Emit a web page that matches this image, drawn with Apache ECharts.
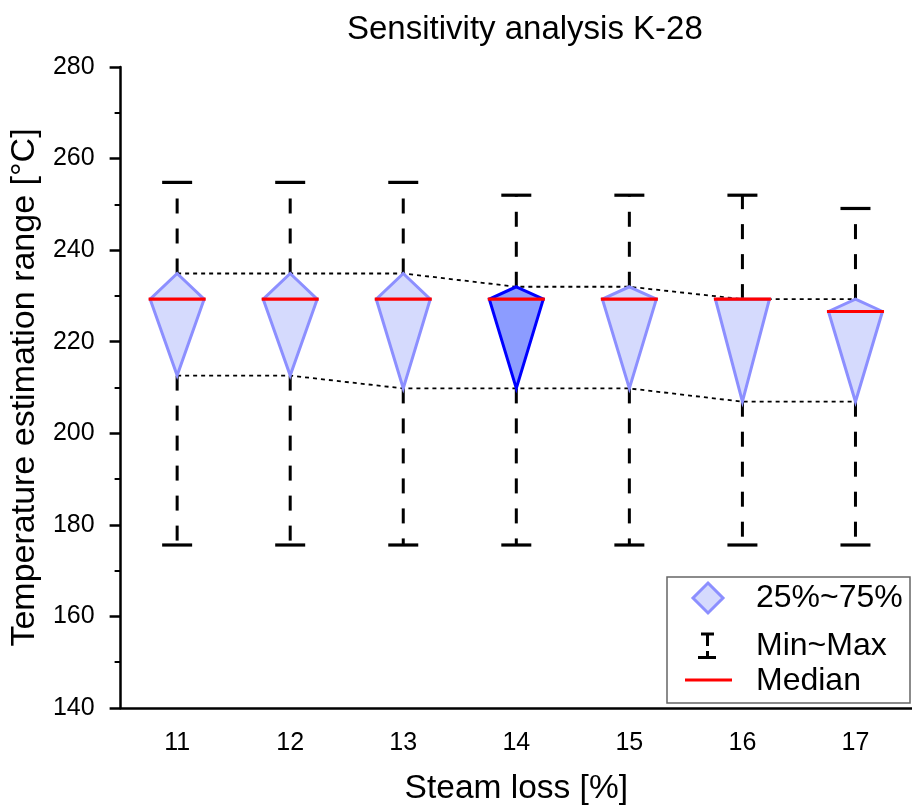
<!DOCTYPE html>
<html>
<head>
<meta charset="utf-8">
<script src="https://cdn.jsdelivr.net/npm/echarts@6/dist/echarts.min.js"></script>
<style>html,body{margin:0;padding:0;background:#fff}#c{width:912px;height:811px}</style>
</head>
<body>
<div id="c"></div>
<script>
// ---- data ----
const categories = ['11', '12', '13', '14', '15', '16', '17'];
const maxV   = [254.8, 254.8, 254.8, 252.0, 252.0, 252.0, 249.1];
const q3V    = [234.9, 234.9, 234.9, 232.0, 232.0, 229.3, 229.3];
const medV   = [229.3, 229.3, 229.3, 229.3, 229.3, 229.3, 226.6];
const q1V    = [212.6, 212.6, 209.8, 209.8, 209.8, 206.9, 206.9];
const minV   = [175.6, 175.6, 175.6, 175.6, 175.6, 175.6, 175.6];
const yTicks = [140, 160, 180, 200, 220, 240, 260, 280];
const titleText = 'Sensitivity analysis K-28';
const xName = 'Steam loss [%]';
const yName = 'Temperature estimation range [°C]';
const legendNames = ['25%~75%', 'Min~Max', 'Median'];
const highlightIndex = 3;

const FONT = '"Liberation Sans", Arial, sans-serif';
const boxFill = '#d5dafd', boxStroke = '#8c8fff';
const hiFill = '#8c9cff', hiStroke = '#0000ff';

const chart = echarts.init(document.getElementById('c'), null, {renderer: 'canvas'});

const whiskerData = categories.map((c, i) => [i, maxV[i], q3V[i], q1V[i], minV[i]]);
const boxData = categories.map((c, i) => [i, q3V[i], medV[i], q1V[i]]);

const option = {
  animation: false,
  backgroundColor: '#fff',
  title: {
    text: titleText, left: 342, top: 8,
    textStyle: {fontFamily: FONT, fontSize: 33, fontWeight: 'normal', color: '#000'}
  },
  grid: {left: 120, top: 67, width: 799.4, height: 644, containLabel: false},
  xAxis: {
    type: 'category', data: categories, boundaryGap: true,
    name: xName, nameLocation: 'middle', nameGap: 64,
    nameTextStyle: {fontFamily: FONT, fontSize: 33.5, color: '#000'},
    axisLine: {lineStyle: {color: '#000', width: 2.5}},
    axisTick: {alignWithLabel: true, length: 11, lineStyle: {color: '#000', width: 2.5}},
    axisLabel: {fontFamily: FONT, fontSize: 25, color: '#000', margin: 23},
    splitLine: {show: false}
  },
  yAxis: {
    type: 'value', min: yTicks[0], max: yTicks[yTicks.length - 1], interval: yTicks[1] - yTicks[0],
    name: yName, nameLocation: 'middle', nameGap: 73, nameRotate: 90,
    nameTextStyle: {fontFamily: FONT, fontSize: 34, color: '#000'},
    axisLine: {show: true, lineStyle: {color: '#000', width: 2.5}},
    axisTick: {show: true, length: 11, lineStyle: {color: '#000', width: 2.5}},
    minorTick: {show: true, splitNumber: 2, length: 6, lineStyle: {color: '#000', width: 2}},
    axisLabel: {fontFamily: FONT, fontSize: 25, color: '#000', margin: 26},
    splitLine: {show: false}, minorSplitLine: {show: false}
  },
  series: [
    {
      type: 'line', data: q3V, symbol: 'none', silent: true, z: 1,
      lineStyle: {color: '#000', width: 1.8, type: [4, 4]}
    },
    {
      type: 'line', data: q1V, symbol: 'none', silent: true, z: 1,
      lineStyle: {color: '#000', width: 1.8, type: [4, 4]}
    },
    {
      type: 'custom', z: 2, data: whiskerData,
      encode: {x: 0, y: [1, 2, 3, 4]},
      renderItem: function (params, api) {
        const i = api.value(0);
        const pMax = api.coord([i, api.value(1)]);
        const pQ3 = api.coord([i, api.value(2)]);
        const pQ1 = api.coord([i, api.value(3)]);
        const pMin = api.coord([i, api.value(4)]);
        const x = pMax[0], hw = 15;
        const dashStyle = {stroke: '#000', lineWidth: 3, lineDash: [15, 15], fill: null};
        const solid = {stroke: '#000', lineWidth: 3.2, fill: null};
        return {type: 'group', children: [
          {type: 'line', shape: {x1: x, y1: pQ3[1], x2: x, y2: pMax[1]}, style: dashStyle},
          {type: 'line', shape: {x1: x, y1: pQ1[1], x2: x, y2: pMin[1]}, style: dashStyle},
          {type: 'line', shape: {x1: x - hw, y1: pMax[1], x2: x + hw, y2: pMax[1]}, style: solid},
          {type: 'line', shape: {x1: x - hw, y1: pMin[1], x2: x + hw, y2: pMin[1]}, style: solid}
        ]};
      }
    },
    {
      type: 'custom', z: 3, data: boxData,
      encode: {x: 0, y: [1, 2, 3]},
      renderItem: function (params, api) {
        const i = api.value(0);
        const pQ3 = api.coord([i, api.value(1)]);
        const pMed = api.coord([i, api.value(2)]);
        const pQ1 = api.coord([i, api.value(3)]);
        const x = pQ3[0], hw = 27;
        const hi = i === highlightIndex;
        return {type: 'group', children: [
          {type: 'polygon', shape: {points: [[x, pQ3[1]], [x + hw, pMed[1]], [x, pQ1[1]], [x - hw, pMed[1]]]},
           style: {fill: hi ? hiFill : boxFill, stroke: hi ? hiStroke : boxStroke, lineWidth: 3, lineJoin: 'miter'}},
          {type: 'line', shape: {x1: x - hw - 1.5, y1: pMed[1], x2: x + hw + 1.5, y2: pMed[1]},
           style: {stroke: '#ff0000', lineWidth: 3.2}}
        ]};
      }
    }
  ],
  graphic: [
    {type: 'group', z: 100, children: [
      {type: 'rect', shape: {x: 667, y: 577, width: 243, height: 126},
       style: {fill: '#fff', stroke: '#666', lineWidth: 1.5}},
      {type: 'polygon', shape: {points: [[708, 583], [723, 598], [708, 613], [693, 598]]},
       style: {fill: boxFill, stroke: boxStroke, lineWidth: 3}},
      {type: 'line', shape: {x1: 701, y1: 634, x2: 714, y2: 634}, style: {stroke: '#000', lineWidth: 3}},
      {type: 'line', shape: {x1: 707.5, y1: 634, x2: 707.5, y2: 646}, style: {stroke: '#000', lineWidth: 3}},
      {type: 'line', shape: {x1: 707.5, y1: 651, x2: 707.5, y2: 657}, style: {stroke: '#000', lineWidth: 3}},
      {type: 'line', shape: {x1: 698, y1: 657.5, x2: 716, y2: 657.5}, style: {stroke: '#000', lineWidth: 3}},
      {type: 'line', shape: {x1: 685, y1: 680, x2: 732, y2: 680}, style: {stroke: '#ff0000', lineWidth: 3}},
      {type: 'text', style: {x: 756, y: 598, text: legendNames[0], font: '32px ' + FONT, fill: '#000', verticalAlign: 'middle'}},
      {type: 'text', style: {x: 756, y: 646, text: legendNames[1], font: '32px ' + FONT, fill: '#000', verticalAlign: 'middle'}},
      {type: 'text', style: {x: 756, y: 681, text: legendNames[2], font: '32px ' + FONT, fill: '#000', verticalAlign: 'middle'}}
    ]}
  ]
};
chart.setOption(option);
</script>
</body>
</html>
